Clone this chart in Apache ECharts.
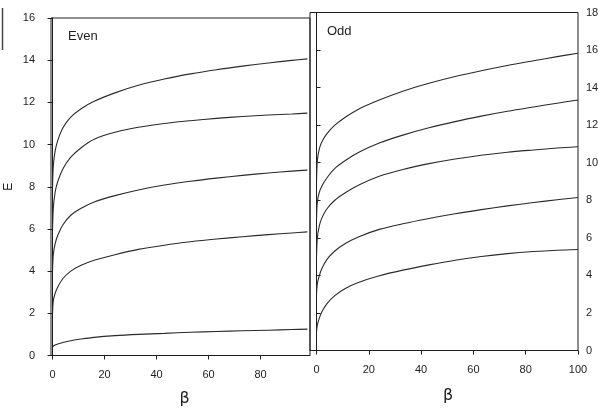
<!DOCTYPE html>
<html>
<head>
<meta charset="utf-8">
<script src="https://cdn.jsdelivr.net/npm/echarts@6/dist/echarts.min.js"></script>
<style>html,body{margin:0;padding:0;background:#fff;}#c{width:598px;height:409px;}</style>
</head>
<body>
<div id="c"></div>
<script>
// beta sample points
var evenBeta = [0, 0.3, 1, 2, 4, 7, 11, 16, 24, 33, 43, 53, 63, 73, 83, 92, 98];
var oddBeta  = [0, 0.3, 1, 2, 4, 7, 11, 16, 24, 33, 43, 53, 63, 73, 83, 92, 100];

// Even states
var even1 = [0.4, 0.45, 0.5, 0.55, 0.62, 0.7, 0.78, 0.86, 0.94, 1.0, 1.05, 1.1, 1.14, 1.17, 1.2, 1.23, 1.25];
var even2 = [2.0, 2.6, 2.95, 3.25, 3.65, 4.0, 4.28, 4.52, 4.78, 5.03, 5.23, 5.39, 5.52, 5.63, 5.73, 5.81, 5.86];
var even3 = [4.0, 4.8, 5.3, 5.7, 6.2, 6.65, 6.98, 7.28, 7.58, 7.85, 8.08, 8.26, 8.41, 8.54, 8.65, 8.74, 8.79];
var even4 = [6.0, 7.0, 7.75, 8.25, 8.85, 9.4, 9.85, 10.25, 10.58, 10.82, 11.0, 11.13, 11.24, 11.33, 11.4, 11.45, 11.49];
var even5 = [8.0, 9.0, 9.7, 10.2, 10.8, 11.3, 11.7, 12.05, 12.45, 12.81, 13.11, 13.35, 13.55, 13.72, 13.87, 13.99, 14.06];

// Odd states
var odd1 = [1.0, 1.35, 1.7, 2.05, 2.5, 2.92, 3.3, 3.62, 3.98, 4.28, 4.56, 4.81, 5.01, 5.16, 5.27, 5.34, 5.38];
var odd2 = [3.0, 3.55, 3.95, 4.35, 4.85, 5.3, 5.7, 6.05, 6.45, 6.75, 7.03, 7.28, 7.5, 7.7, 7.88, 8.03, 8.15];
var odd3 = [5.0, 6.0, 6.6, 7.05, 7.55, 8.0, 8.4, 8.8, 9.28, 9.64, 9.95, 10.2, 10.4, 10.56, 10.68, 10.78, 10.85];
var odd4 = [7.0, 7.9, 8.4, 8.75, 9.2, 9.7, 10.12, 10.55, 11.05, 11.47, 11.86, 12.19, 12.48, 12.74, 12.97, 13.17, 13.34];
var odd5 = [9.0, 10.1, 10.7, 11.1, 11.55, 12.0, 12.42, 12.85, 13.34, 13.81, 14.23, 14.59, 14.9, 15.18, 15.43, 15.65, 15.83];

// tick labels
var evenXTicks = [0, 20, 40, 60, 80];
var oddXTicks = [0, 20, 40, 60, 80, 100];

var ink = '#1e1e1e';
var font = 'Liberation Sans, Arial, sans-serif';

function mk(betas, vals, idx) {
  return {
    type: 'line', xAxisIndex: idx, yAxisIndex: idx,
    data: betas.map(function (b, i) { return [b, vals[i]]; }),
    showSymbol: false, symbol: 'none', smooth: 0.3,
    lineStyle: { color: '#2a2a2a', width: 1.1 },
    silent: true, animation: false
  };
}

var chart = echarts.init(document.getElementById('c'), null, { renderer: 'canvas' });
chart.setOption({
  backgroundColor: '#fff',
  animation: false,
  grid: [
    { left: 51, top: 18, width: 259, height: 337.5, show: true, borderColor: ink, borderWidth: 1, containLabel: false, outerBoundsMode: 'none' },
    { left: 310, top: 12.5, width: 268, height: 338, show: true, borderColor: ink, borderWidth: 1, containLabel: false, outerBoundsMode: 'none' }
  ],
  xAxis: [
    { type: 'value', gridIndex: 0, min: -0.6, max: 99,
      name: 'β', nameLocation: 'middle', nameGap: 35,
      nameTextStyle: { fontSize: 16, color: ink, fontFamily: 'DejaVu Sans, sans-serif', padding: [0, 0, 0, 8] },
      axisLine: { show: true, lineStyle: { color: ink, width: 1 } },
      axisTick: { show: true, inside: false, length: 4, customValues: evenXTicks, lineStyle: { color: ink } },
      axisLabel: { customValues: evenXTicks, margin: 14, fontSize: 11, color: ink, fontFamily: font },
      splitLine: { show: false } },
    { type: 'value', gridIndex: 1, min: -2.5, max: 100,
      name: 'β', nameLocation: 'middle', nameGap: 37,
      nameTextStyle: { fontSize: 16, color: ink, fontFamily: 'DejaVu Sans, sans-serif', padding: [0, 0, 0, 8] },
      axisLine: { show: true, lineStyle: { color: ink, width: 1 } },
      axisTick: { show: true, inside: false, length: 4, customValues: oddXTicks, lineStyle: { color: ink } },
      axisLabel: { customValues: oddXTicks, margin: 14, fontSize: 11, color: ink, fontFamily: font },
      splitLine: { show: false } }
  ],
  yAxis: [
    { type: 'value', gridIndex: 0, min: 0, max: 16, interval: 2, position: 'left',
      name: 'E', nameLocation: 'middle', nameGap: 36, nameRotate: 90,
      nameTextStyle: { fontSize: 12, color: ink, fontFamily: font },
      axisLine: { show: true, lineStyle: { color: ink, width: 1 } },
      axisTick: { show: true, inside: false, length: 5, lineStyle: { color: ink } },
      axisLabel: { margin: 16, fontSize: 11, color: ink, fontFamily: font },
      splitLine: { show: false } },
    { type: 'value', gridIndex: 1, min: 0, max: 18, interval: 2, position: 'right',
      axisLine: { show: true, lineStyle: { color: ink, width: 1 } },
      axisTick: { show: true, inside: false, length: 4, lineStyle: { color: ink } },
      axisLabel: { margin: 8, fontSize: 11, color: ink, fontFamily: font },
      splitLine: { show: false } }
  ],
  graphic: [
    { type: 'text', left: 68, top: 30, style: { text: 'Even', fontSize: 13, fill: ink, fontFamily: font } },
    { type: 'text', left: 327, top: 25, style: { text: 'Odd', fontSize: 13, fill: ink, fontFamily: font } },
    { type: 'line', shape: { x1: 2.5, y1: 8, x2: 2.5, y2: 50 }, style: { stroke: '#444', lineWidth: 1.5 } }
  ],
  series: [
    mk(evenBeta, even1, 0), mk(evenBeta, even2, 0), mk(evenBeta, even3, 0), mk(evenBeta, even4, 0), mk(evenBeta, even5, 0),
    mk(oddBeta, odd1, 1), mk(oddBeta, odd2, 1), mk(oddBeta, odd3, 1), mk(oddBeta, odd4, 1), mk(oddBeta, odd5, 1)
  ]
});
</script>
</body>
</html>
